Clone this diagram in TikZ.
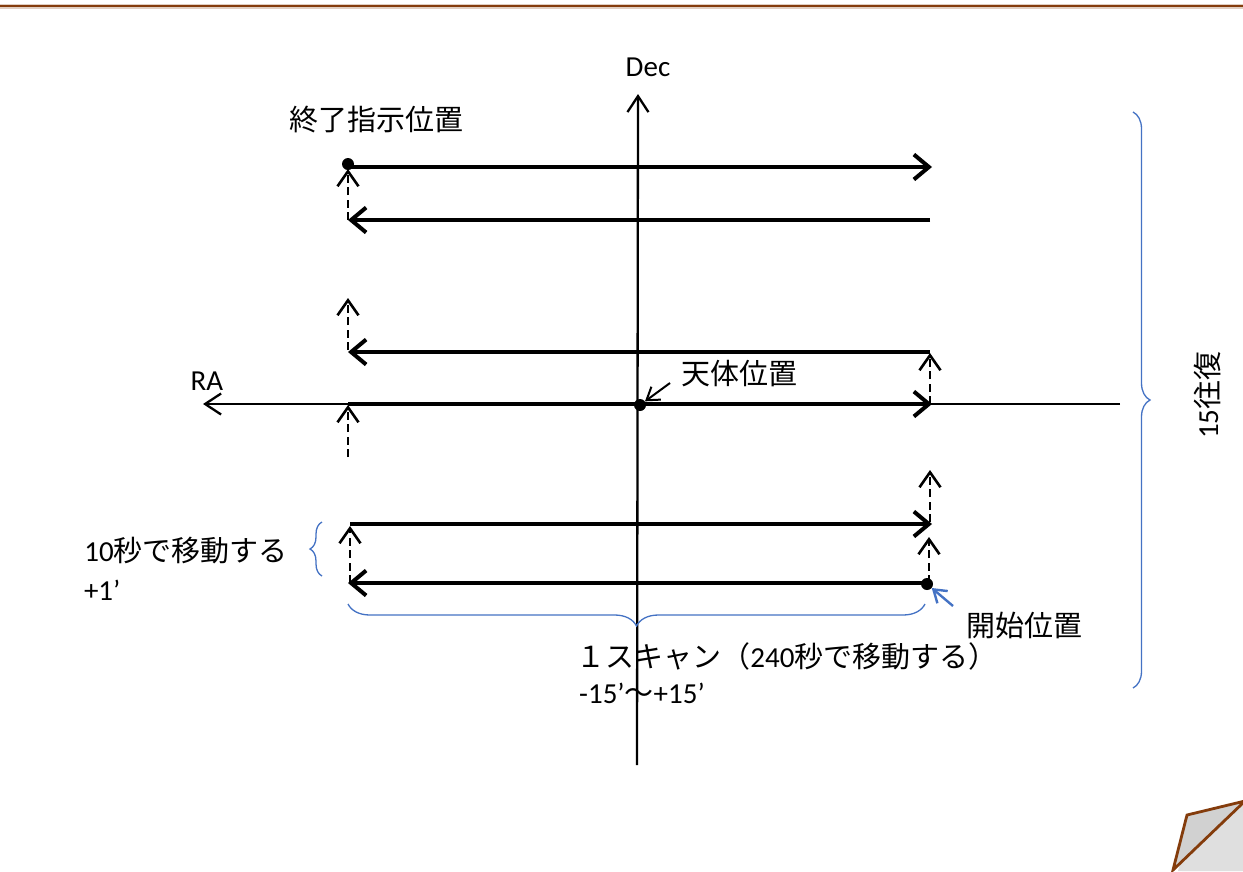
\documentclass[tikz,border=0pt]{standalone}
\usepackage{fontspec}
\setmainfont{Carlito}
\newfontfamily\cjk{Noto Sans CJK JP}[Scale=1.0]
\usetikzlibrary{arrows.meta,decorations.pathreplacing}
\definecolor{brn}{HTML}{843C0C}
\definecolor{blu}{HTML}{4472C4}
\tikzset{
  scanln/.style={line width=4pt, -{Straight Barb[length=15pt,width=25pt]}},
  plainscan/.style={line width=4pt},
  axisln/.style={line width=2.3pt, -{Straight Barb[length=16pt,width=21pt]}},
  stepln/.style={line width=2.6pt, dash pattern=on 8pt off 4.5pt, -{Straight Barb[length=15pt,width=21pt]}},
  dotnd/.style={circle, fill=black, minimum size=12pt, inner sep=0pt},
  lbl/.style={inner sep=0pt, outer sep=0pt, font=\fontsize{29}{32}\selectfont},
  bluebrace/.style={blu, line width=1.3pt, decorate},
  ptr/.style={line width=2pt, -{Straight Barb[length=12pt,width=16pt]}}
}
\begin{document}
\begin{tikzpicture}[x=1pt,y=-1pt]
\useasboundingbox (0,0) rectangle (1243,871);
\fill[white] (0,0) rectangle (1243,871);
% top rule
\fill[brn!25] (0,3.5) rectangle (1243,8.5);
\draw[brn, line width=2.5pt] (0,6) -- (1243,6);

% labels
\node[lbl] (lblDec) at (648,67) {Dec};
\node[lbl] (lblRA) at (207,381) {RA};
\node[lbl] (lblEnd) at (376,120) {\cjk 終了指示位置};
\node[lbl] (lblObj) at (739,374) {\cjk 天体位置};
\node[lbl] (lblStart) at (1024,625) {\cjk 開始位置};
\node[lbl] (lblScan) at (787,656) {{\cjk １スキャン（}240{\cjk 秒で移動する）}};
\node[lbl] (lblRange) at (642,693) {-15’{\cjk 〜}+15’};
\node[lbl] (lblTen) at (186,551) {10{\cjk 秒で移動する}};
\node[lbl, anchor=west] (lblPlus) at (84,590) {+1’};
\node[lbl, rotate=90] (lblRound) at (1207,395) {15{\cjk 往復}};

% axes
\coordinate (decB) at (637,765);
\coordinate (decT) at (638,94);
\coordinate (raR) at (1120,404);
\coordinate (raL) at (203,404);
\draw[axisln] (decB) -- (decT);
\draw[axisln] (raR) -- (raL);

% scan line end points
\coordinate (aL) at (348,167); \coordinate (aR) at (932,167);
\coordinate (bL) at (348,220); \coordinate (bR) at (930,220);
\coordinate (cL) at (348,352); \coordinate (cR) at (930,352);
\coordinate (dL) at (348,404); \coordinate (dR) at (932,404);
\coordinate (eL) at (350,524); \coordinate (eR) at (932,524);
\coordinate (fL) at (348,583); \coordinate (fR) at (928,583);

\draw[scanln] (aL) -- (aR);
\draw[scanln] (bR) -- (bL);
\draw[scanln] (cR) -- (cL);
\draw[scanln] (dL) -- (dR);
\draw[scanln] (eL) -- (eR);
\draw[scanln] (fR) -- (fL);

% dashed step arrows
\coordinate (g1a) at (348,220); \coordinate (g1b) at (348,169);
\coordinate (g2a) at (348,350); \coordinate (g2b) at (348,298);
\coordinate (g3a) at (348,457); \coordinate (g3b) at (348,405);
\coordinate (g4a) at (930,404); \coordinate (g4b) at (930,353);
\coordinate (g5a) at (930,522); \coordinate (g5b) at (930,470);
\coordinate (g6a) at (929,583); \coordinate (g6b) at (929,537);
\coordinate (g7a) at (350,583); \coordinate (g7b) at (350,526);
\foreach \p in {1,...,7}{\draw[stepln] (g\p a) -- (g\p b);}

% dots
\node[dotnd] (dotEnd) at (348,164) {};
\node[dotnd] (dotObj) at (640,405) {};
\node[dotnd] (dotStart) at (927,584) {};

% pointers
\coordinate (pObjS) at (670,383);
\draw[ptr] (pObjS) -- (dotObj);
\coordinate (pStS) at (953,606);
\draw[ptr, blu, line width=2.4pt] (pStS) -- (dotStart);

% braces
\draw[bluebrace, decoration={brace, amplitude=22pt}] (925,604) -- (348,604);
\draw[bluebrace, decoration={brace, amplitude=12pt}] (322,576) -- (322,522);
\draw[bluebrace, decoration={brace, amplitude=17pt}] (1133,112) -- (1133,688);

% page curl
\fill[black!25, opacity=0.5] (1178,871) -- (1191,818) -- (1243,806) -- (1243,871) -- cycle;
\fill[black!12, opacity=0.6] (1182,871) -- (1195,822) -- (1243,812) -- (1243,871) -- cycle;
\draw[brn, line width=2.8pt, fill=black!18, line join=miter] (1173,870) -- (1187,815) -- (1245,801) -- cycle;
\end{tikzpicture}
\end{document}
